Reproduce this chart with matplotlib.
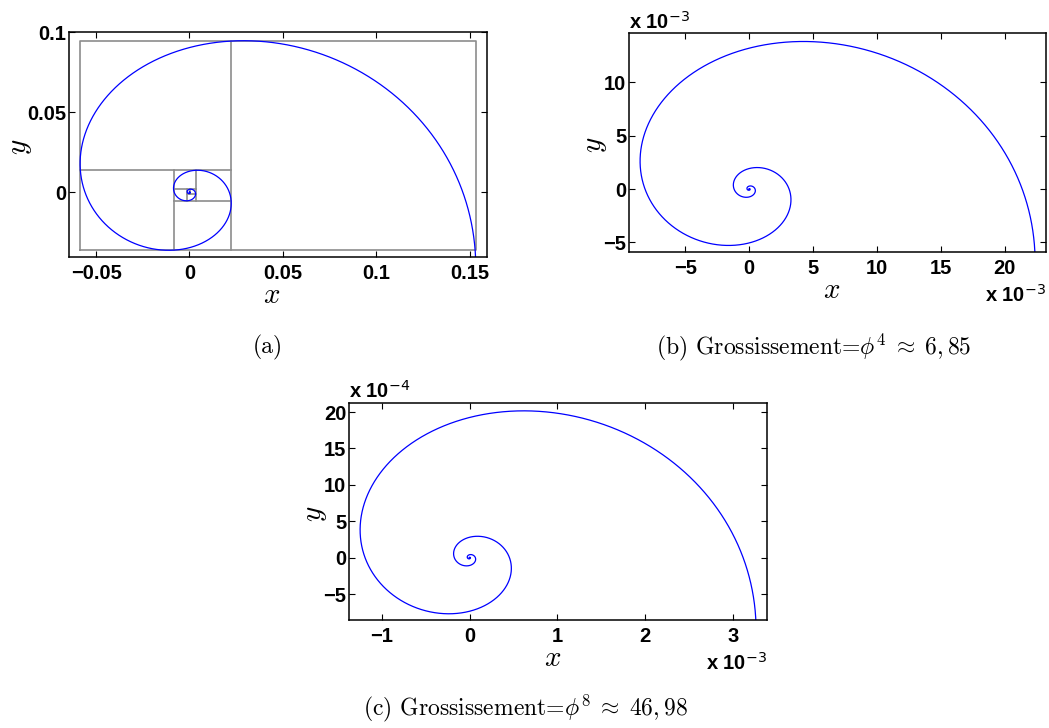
import matplotlib

matplotlib.use("Agg")
import matplotlib.pyplot as plt
import numpy as np

# golden spiral r = R0 * phi^(-2(theta - theta0)/pi), centred on the origin
PHI = (1 + np.sqrt(5)) / 2
RECT_RIGHT = 0.1533          # right edge of the outer golden rectangle
N_DIVIDERS = 13              # nested squares drawn in panel (a)
ZOOM_POWERS = [0, 4, 8]      # panel magnification = phi ** power

# panel (a) limits; (b) and (c) use the same window divided by phi^4, phi^8
XLIM_A = (-0.0645, 0.1593)
YLIM_A = (-0.0402, 0.1)

XTICKS = [[-0.05, 0, 0.05, 0.1, 0.15], [-5, 0, 5, 10, 15, 20], [-1, 0, 1, 2, 3]]
YTICKS = [[0, 0.05, 0.1], [-5, 0, 5, 10], [-5, 0, 5, 10, 15, 20]]
X_EXP = [0, -3, -3]
Y_EXP = [0, -3, -4]
CAPTIONS = [
    "(a)",
    r"(b) Grossissement=$\phi^4 \;\approx\; 6,85$",
    r"(c) Grossissement=$\phi^8 \;\approx\; 46,98$",
]

# axes boxes in pixels: left, top, right, bottom
BOXES = [(69, 32.3, 487, 256.7), (629, 33.3, 1046.3, 251.7), (349, 402.7, 767.3, 620)]
CAPTION_POS = [(268, 347), (814, 347), (525, 708)]
YLABEL_GAP = [49, 34, 34]

W, H = 1049, 728
TICK_FONT = dict(family="Liberation Sans", weight="bold", size=14.5)


def fmt(v):
    s = f"{v:g}"
    return s.replace("-", "\u2212")


def spiral():
    b = 2 * np.log(PHI) / np.pi
    alpha = np.arctan(b)
    theta0 = -alpha
    r0 = RECT_RIGHT / np.cos(alpha)
    theta = np.linspace(theta0 - 0.15, theta0 + 16 * np.pi, 40000)
    r = r0 * PHI ** (-2 * (theta - theta0) / np.pi)
    return r * np.cos(theta), r * np.sin(theta)


def extreme(k):
    # tangent line of the k-th quarter turn: +x, +y, -x, -y in turn
    sign = [1, 1, -1, -1][k % 4]
    return sign * RECT_RIGHT / PHI**k


def draw_squares(ax):
    kw = dict(color="#8c8c8c", lw=1.2, zorder=1)
    xl, xr, yb, yt = extreme(2), extreme(0), extreme(3), extreme(1)
    ax.plot([xl, xr, xr, xl, xl], [yb, yb, yt, yt, yb], **kw)
    for k in range(4, N_DIVIDERS):
        pos = extreme(k)
        a, c = extreme(k - 1), extreme(k - 3)
        if k % 2 == 0:
            ax.plot([pos, pos], [a, c], **kw)
        else:
            ax.plot([a, c], [pos, pos], **kw)


def exp_label(ax, exp, xy, offset, ha, va):
    ax.annotate(
        "x 10$^{" + fmt(exp) + "}$",
        xy=xy, xycoords="axes fraction",
        xytext=offset, textcoords="offset pixels",
        ha=ha, va=va, fontfamily="Liberation Sans", fontweight="bold",
        fontsize=14.5, math_fontfamily="dejavusans", annotation_clip=False,
    )


fig = plt.figure(figsize=(W / 100, H / 100), dpi=100)
sx, sy = spiral()

for i, power in enumerate(ZOOM_POWERS):
    left, top, right, bottom = BOXES[i]
    ax = fig.add_axes([left / W, 1 - bottom / H, (right - left) / W, (bottom - top) / H])
    scale = PHI**power

    if i == 0:
        draw_squares(ax)
    ax.plot(sx, sy, color="#0000ff", lw=0.9, zorder=2)

    ax.set_xlim(XLIM_A[0] / scale, XLIM_A[1] / scale)
    ax.set_ylim(YLIM_A[0] / scale, YLIM_A[1] / scale)

    ax.set_xticks([v * 10.0 ** X_EXP[i] for v in XTICKS[i]])
    ax.set_xticklabels([fmt(v) for v in XTICKS[i]], fontdict=TICK_FONT)
    ax.set_yticks([v * 10.0 ** Y_EXP[i] for v in YTICKS[i]])
    ax.set_yticklabels([fmt(v) for v in YTICKS[i]], fontdict=TICK_FONT)
    ax.tick_params(direction="in", length=4, width=0.8, top=True, right=True)
    ax.tick_params(axis="x", pad=5)
    ax.tick_params(axis="y", pad=2)
    for sp in ax.spines.values():
        sp.set_linewidth(1.1)

    if X_EXP[i]:
        exp_label(ax, X_EXP[i], (1, 0), (0, -43), "right", "center")
    if Y_EXP[i]:
        exp_label(ax, Y_EXP[i], (0, 1), (0, 5), "left", "baseline")

    ax.annotate(r"$x$", xy=(0.5, 0), xycoords="axes fraction", xytext=(-6, -38),
                textcoords="offset pixels", ha="center", va="center",
                fontsize=21, math_fontfamily="cm")
    ax.annotate(r"$y$", xy=(0, 0.5), xycoords="axes fraction",
                xytext=(-YLABEL_GAP[i], -2), textcoords="offset pixels",
                ha="center", va="center", rotation=90,
                fontsize=21, math_fontfamily="cm")

    cx, cy = CAPTION_POS[i]
    fig.text(cx / W, 1 - cy / H, CAPTIONS[i], ha="center", va="center",
             fontfamily="cmr10", fontsize=17, math_fontfamily="cm")

fig.savefig("out.png", dpi=100)
